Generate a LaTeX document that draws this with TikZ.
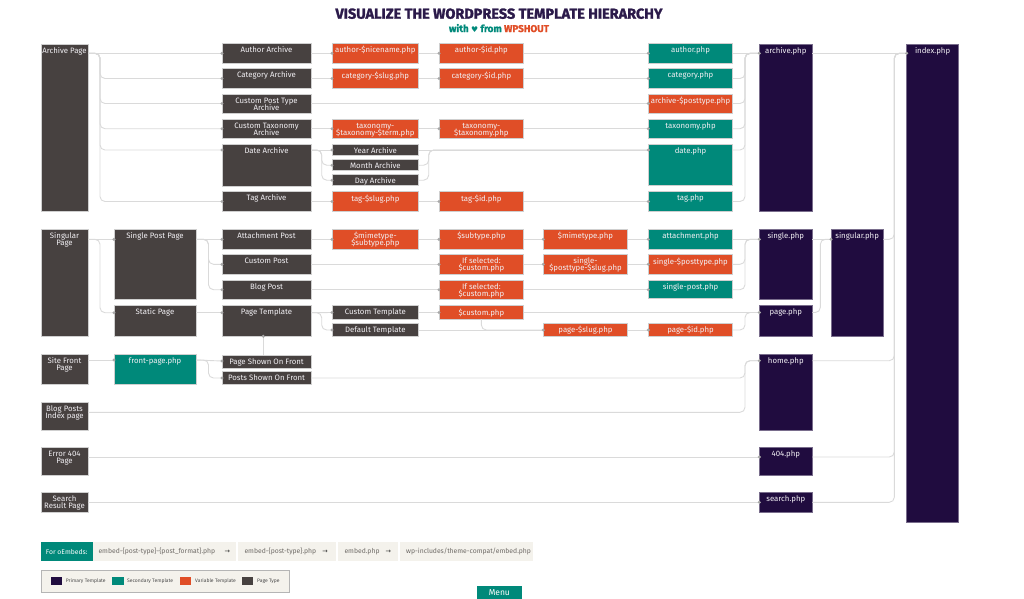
\documentclass[tikz,border=0pt]{standalone}
\usepackage{fontspec}
\usepackage{graphicx}
\setmainfont{Fira Sans}
\newfontfamily\symfont{DejaVu Sans}
\newfontfamily\heavyfont{Fira Sans}[BoldFeatures={FakeBold=1.6}]
\definecolor{prim}{HTML}{200C3F}
\definecolor{sec}{HTML}{00897A}
\definecolor{varc}{HTML}{E04E27}
\definecolor{ptc}{HTML}{474140}
\definecolor{linec}{HTML}{DADADA}
\definecolor{dotc}{HTML}{A8A8A8}
\definecolor{beige}{HTML}{F4F2EC}
\definecolor{embtxt}{HTML}{6E6A66}
\definecolor{leggray}{HTML}{B5B5B5}
\definecolor{titlec}{HTML}{2B1A4A}
\definecolor{boxline}{HTML}{CFCFCF}
\definecolor{txtc}{HTML}{F2F0F4}
\lineskiplimit=-20pt
\tikzset{
  box/.style={draw=boxline, line width=0.5pt, inner sep=0pt, outer sep=0pt},
  ptype/.style={fill=ptc},
  primt/.style={fill=prim, draw=prim!60!white},
  sect/.style={fill=sec},
  vart/.style={fill=varc},
  lbl/.style={anchor=north, inner sep=0pt, align=center, text=txtc,
    font=\fontsize{7.8}{6.8}\selectfont},
  conn/.style={draw=linec, line width=0.9pt, rounded corners=5pt},
  embbox/.style={fill=beige, inner sep=0pt, minimum height=18.4pt},
  embtext/.style={anchor=west, inner sep=0pt, text=embtxt, font=\fontsize{6.8}{7}\selectfont},
  embarrow/.style={inner sep=0pt, text=black!80, font=\symfont\fontsize{6.5}{7}\selectfont},
  swatch/.style={inner sep=0pt, minimum width=11.3pt, minimum height=7.7pt},
  legtext/.style={anchor=west, inner sep=0pt, text=black!70, font=\fontsize{5}{6}\selectfont},
}
% name, x1, y1, x2, y2, style, connection y, text
\newcommand\mkbox[8]{%
  \node[box,#6,minimum width={(#4-#2)*1pt},minimum height={(#5-#3)*1pt}] (#1) at ({(#2+#4)/2},{(#3+#5)/2}) {};
  \node[lbl] (#1-t) at ({(#2+#4)/2},{#3+3}) {\rule{0pt}{6pt}#8};
  \coordinate (#1-i) at (#2,#7);
  \coordinate (#1-o) at (#4,#7);
}
\newcommand\lnk[2]{\draw[conn] (#1-o) -- (#2-i);}
\newcommand\blnk[3]{\draw[conn] (#1-o) -- ++(#3,0) |- (#2-i);}
\begin{document}
\begin{tikzpicture}[x=1pt,y=-1pt]
\useasboundingbox (0,0) rectangle (1024,598);
\clip (0,0) rectangle (1024,598);
% title
\node[anchor=base, inner sep=0pt, text=titlec] (title) at (499,18.7)
  {\resizebox{327pt}{!}{\heavyfont\bfseries VISUALIZE THE WORDPRESS TEMPLATE HIERARCHY}};
\node[anchor=base, inner sep=0pt] (subtitle) at (499,32)
  {\resizebox{100pt}{!}{\heavyfont\bfseries\color{sec}with {\symfont\scalebox{0.8}{♥}} from \color{varc}WPSHOUT}};
% column A
\mkbox{arch}{41}{44}{88}{211}{ptype}{53.3}{Archive Page}
\mkbox{sing}{41}{229.3}{88}{336.3}{ptype}{239.3}{Singular\\Page}
\mkbox{sfp}{41}{354.3}{88}{384.7}{ptype}{360}{Site Front\\Page}
\mkbox{bpi}{41}{402}{88}{430.3}{ptype}{412.3}{Blog Posts\\Index page}
\mkbox{e404}{41}{447.3}{88}{475.3}{ptype}{457}{Error 404\\Page}
\mkbox{srp}{41}{492.3}{88}{512.7}{ptype}{502.3}{Search\\Result Page}
% column B
\mkbox{spp}{114}{229.3}{196}{299.3}{ptype}{239.3}{Single Post Page}
\mkbox{stp}{114}{305.7}{196}{336.3}{ptype}{312.7}{Static Page}
\mkbox{fpp}{114}{354.3}{196}{384.7}{sect}{360}{front-page.php}
% column C
\mkbox{authA}{222}{43.3}{311}{63}{ptype}{53.3}{Author Archive}
\mkbox{catA}{222}{68.7}{311}{88.3}{ptype}{78.5}{Category Archive}
\mkbox{cptA}{222}{94}{311}{113.3}{ptype}{103.5}{Custom Post Type\\Archive}
\mkbox{ctaxA}{222}{119}{311}{138.3}{ptype}{128.7}{Custom Taxonomy\\Archive}
\mkbox{dateA}{222}{144.3}{311}{186}{ptype}{150}{Date Archive}
\mkbox{tagA}{222}{191.7}{311}{211.3}{ptype}{201.5}{Tag Archive}
\mkbox{attP}{222}{229.3}{311}{249}{ptype}{239.3}{Attachment Post}
\mkbox{cusP}{222}{254.7}{311}{274}{ptype}{264.3}{Custom Post}
\mkbox{blgP}{222}{280}{311}{299.3}{ptype}{289.7}{Blog Post}
\mkbox{ptpl}{222}{305.7}{311}{336.3}{ptype}{312.7}{Page Template}
\mkbox{psf}{222}{355}{311}{368}{ptype}{361}{Page Shown On Front}
\mkbox{posf}{222}{371.7}{311}{384.7}{ptype}{378}{Posts Shown On Front}
% column D
\mkbox{ani}{332}{43.3}{418.7}{63}{vart}{53.3}{author-\$nicename.php}
\mkbox{cslug}{332}{68.7}{418.7}{88.3}{vart}{78.5}{category-\$slug.php}
\mkbox{taxterm}{332}{119}{418.7}{138.3}{vart}{128.7}{taxonomy-\\\$taxonomy-\$term.php}
\mkbox{year}{332}{144.3}{418.7}{155.3}{ptype}{150}{Year Archive}
\mkbox{month}{332}{159.7}{418.7}{170.7}{ptype}{165.2}{Month Archive}
\mkbox{day}{332}{174.7}{418.7}{185.7}{ptype}{180.2}{Day Archive}
\mkbox{tslug}{332}{191.7}{418.7}{211.3}{vart}{201.5}{tag-\$slug.php}
\mkbox{mimesub}{332}{229.3}{418.7}{249}{vart}{239.3}{\$mimetype-\\\$subtype.php}
\mkbox{ctpl}{332}{305.7}{418.7}{319}{ptype}{312.5}{Custom Template}
\mkbox{dtpl}{332}{323.7}{418.7}{336.3}{ptype}{330}{Default Template}
% column E
\mkbox{aid}{439}{43.3}{523.7}{63}{vart}{53.3}{author-\$id.php}
\mkbox{cid}{439}{68.7}{523.7}{88.3}{vart}{78.5}{category-\$id.php}
\mkbox{taxtax}{439}{119}{523.7}{138.3}{vart}{128.7}{taxonomy-\\\$taxonomy.php}
\mkbox{tid}{439}{191.7}{523.7}{211.3}{vart}{201.5}{tag-\$id.php}
\mkbox{subt}{439}{229.3}{523.7}{249}{vart}{239.3}{\$subtype.php}
\mkbox{ifs1}{439}{254.7}{523.7}{274}{vart}{264.3}{If selected:\\\$custom.php}
\mkbox{ifs2}{439}{280}{523.7}{299.3}{vart}{289.7}{If selected:\\\$custom.php}
\mkbox{cust}{439}{305.7}{523.7}{319}{vart}{312.5}{\$custom.php}
% column F
\mkbox{mime}{543.3}{229.3}{627.7}{249}{vart}{239.3}{\$mimetype.php}
\mkbox{spts}{543.3}{254.7}{627.7}{274}{vart}{264.3}{single-\\\$posttype-\$slug.php}
\mkbox{pslug}{543.3}{323.3}{627.7}{336.3}{vart}{330}{page-\$slug.php}
% column G
\mkbox{authp}{648.3}{43.3}{732.7}{63}{sect}{53.3}{author.php}
\mkbox{catp}{648.3}{68.7}{732.7}{88.3}{sect}{78.5}{category.php}
\mkbox{archpt}{648.3}{94}{732.7}{113.3}{vart}{103.5}{archive-\$posttype.php}
\mkbox{taxp}{648.3}{119}{732.7}{138.3}{sect}{128.7}{taxonomy.php}
\mkbox{datep}{648.3}{144.3}{732.7}{185.7}{sect}{150}{date.php}
\mkbox{tagp}{648.3}{191.7}{732.7}{211.3}{sect}{201.5}{tag.php}
\mkbox{attp}{648.3}{229.3}{732.7}{249}{sect}{239.3}{attachment.php}
\mkbox{spt}{648.3}{254.7}{732.7}{274}{vart}{264.3}{single-\$posttype.php}
\mkbox{spost}{648.3}{280}{732.7}{298.5}{sect}{289.7}{single-post.php}
\mkbox{pid}{648.3}{323.3}{732.7}{336.3}{vart}{330}{page-\$id.php}
% column H
\mkbox{archp}{759.3}{44}{812.3}{211.7}{primt}{53.3}{archive.php}
\mkbox{singlep}{759.3}{229.3}{812.3}{299.3}{primt}{239.3}{single.php}
\mkbox{pagep}{759.3}{305.7}{812.3}{336.3}{primt}{312.5}{page.php}
\mkbox{homep}{759.3}{354.3}{812.3}{430}{primt}{360.7}{home.php}
\mkbox{p404}{759.3}{447.3}{812.3}{475}{primt}{457}{404.php}
\mkbox{searchp}{759.3}{492.3}{812.3}{512.3}{primt}{502.3}{search.php}
% columns I, J
\mkbox{singularp}{831}{229.3}{883.3}{336.3}{primt}{239.3}{singular.php}
\mkbox{indexp}{906.7}{44}{958.5}{522.7}{primt}{53.3}{index.php}
% ---- connectors: archive
\lnk{arch}{authA}
\foreach \t in {catA,cptA,ctaxA,dateA,tagA} {\blnk{arch}{\t}{12}}
\lnk{authA}{ani}\lnk{ani}{aid}\lnk{aid}{authp}\lnk{authp}{archp}
\lnk{catA}{cslug}\lnk{cslug}{cid}\lnk{cid}{catp}
\lnk{cptA}{archpt}
\lnk{ctaxA}{taxterm}\lnk{taxterm}{taxtax}\lnk{taxtax}{taxp}
\lnk{dateA}{year}\blnk{dateA}{month}{10.7}\blnk{dateA}{day}{10.7}
\lnk{year}{datep}\blnk{month}{datep}{10}\blnk{day}{datep}{10}
\lnk{tagA}{tslug}\lnk{tslug}{tid}\lnk{tid}{tagp}
\foreach \s in {catp,archpt,taxp,datep,tagp} {\blnk{\s}{archp}{12.3}}
\lnk{archp}{indexp}
% ---- singular
\lnk{sing}{spp}\blnk{sing}{stp}{12}
\lnk{spp}{attP}\blnk{spp}{cusP}{12.5}\blnk{spp}{blgP}{12.5}
\lnk{attP}{mimesub}\lnk{mimesub}{subt}\lnk{subt}{mime}\lnk{mime}{attp}\lnk{attp}{singlep}
\lnk{cusP}{ifs1}\lnk{ifs1}{spts}\lnk{spts}{spt}\blnk{spt}{singlep}{12.3}
\lnk{blgP}{ifs2}\lnk{ifs2}{spost}\blnk{spost}{singlep}{12.3}
\lnk{stp}{ptpl}\lnk{ptpl}{ctpl}\blnk{ptpl}{dtpl}{10.7}
\lnk{ctpl}{cust}\lnk{cust}{pagep}
\lnk{dtpl}{pslug}\draw[conn] (cust.south) |- (pslug-i);
\lnk{pslug}{pid}\blnk{pid}{pagep}{12.3}
\lnk{singlep}{singularp}\blnk{pagep}{singularp}{8}
\blnk{singularp}{indexp}{11}
% ---- front, home, 404, search
\lnk{sfp}{fpp}\lnk{fpp}{psf}\blnk{fpp}{posf}{12.5}
\draw[conn] ([xshift=-3.2pt]psf.north) -- ([xshift=-3.2pt]ptpl.south);
\blnk{posf}{homep}{434}
\blnk{bpi}{homep}{657}
\lnk{e404}{p404}\lnk{srp}{searchp}
\foreach \s in {homep,p404,searchp} {\blnk{\s}{indexp}{82}}
% ---- dots
\foreach \n in {authA,catA,cptA,ctaxA,dateA,tagA,ani,cslug,taxterm,year,month,day,tslug,
  aid,cid,taxtax,tid,authp,catp,archpt,taxp,datep,tagp,archp,indexp,spp,stp,attP,cusP,blgP,
  ptpl,mimesub,ctpl,dtpl,subt,ifs1,ifs2,cust,mime,spts,pslug,attp,spt,spost,pid,singlep,
  pagep,singularp,fpp,psf,posf,homep,p404,searchp}
  {\fill[dotc] (\n-i) circle (1.7pt);}
\fill[dotc] ([xshift=-3.2pt]ptpl.south) circle (1.7pt);
% ---- oEmbeds bar
\node[fill=sec, inner sep=0pt, minimum width=52pt, minimum height=18.4pt, text=white,
  font=\fontsize{6.8}{7}\selectfont] (oemb) at (66.7,551.5) {For oEmbeds:};
\node[embbox, minimum width=142.7pt] (e1) at (164.65,551.5) {};
\node[embtext] (e1-t) at (98.3,551.5) {embed-\{post-type\}-\{post\_format\}.php};
\node[embarrow] (e1-a) at (227.3,551.5) {→};
\node[embbox, minimum width=97.7pt] (e2) at (287.15,551.5) {};
\node[embtext] (e2-t) at (244.3,551.5) {embed-\{post-type\}.php};
\node[embarrow] (e2-a) at (325,551.5) {→};
\node[embbox, minimum width=59.4pt] (e3) at (368,551.5) {};
\node[embtext] (e3-t) at (344.3,551.5) {embed.php};
\node[embarrow] (e3-a) at (388.3,551.5) {→};
\node[embbox, minimum width=132.7pt] (e4) at (466.35,551.5) {};
\node[embtext] (e4-t) at (406,551.5) {wp-includes/theme-compat/embed.php};
% ---- legend
\node[draw=leggray, line width=1pt, fill=beige, inner sep=0pt, minimum width=247.6pt,
  minimum height=22.7pt] (leg) at (165.5,581.35) {};
\node[swatch, fill=prim] (sw1) at (56.65,580.85) {};
\node[legtext] (lt1) at (65.7,580.85) {Primary Template};
\node[swatch, fill=sec] (sw2) at (118,580.85) {};
\node[legtext] (lt2) at (127,580.85) {Secondary Template};
\node[swatch, fill=varc] (sw3) at (185.8,580.85) {};
\node[legtext] (lt3) at (195,580.85) {Variable Template};
\node[swatch, fill=ptc] (sw4) at (247.8,580.85) {};
\node[legtext] (lt4) at (257,580.85) {Page Type};
% ---- menu
\node[fill=sec, inner sep=0pt, minimum width=45.3pt, minimum height=14pt, text=white,
  font=\fontsize{8.5}{9}\selectfont] (menu) at (499.35,593) {Menu};
\end{tikzpicture}
\end{document}
